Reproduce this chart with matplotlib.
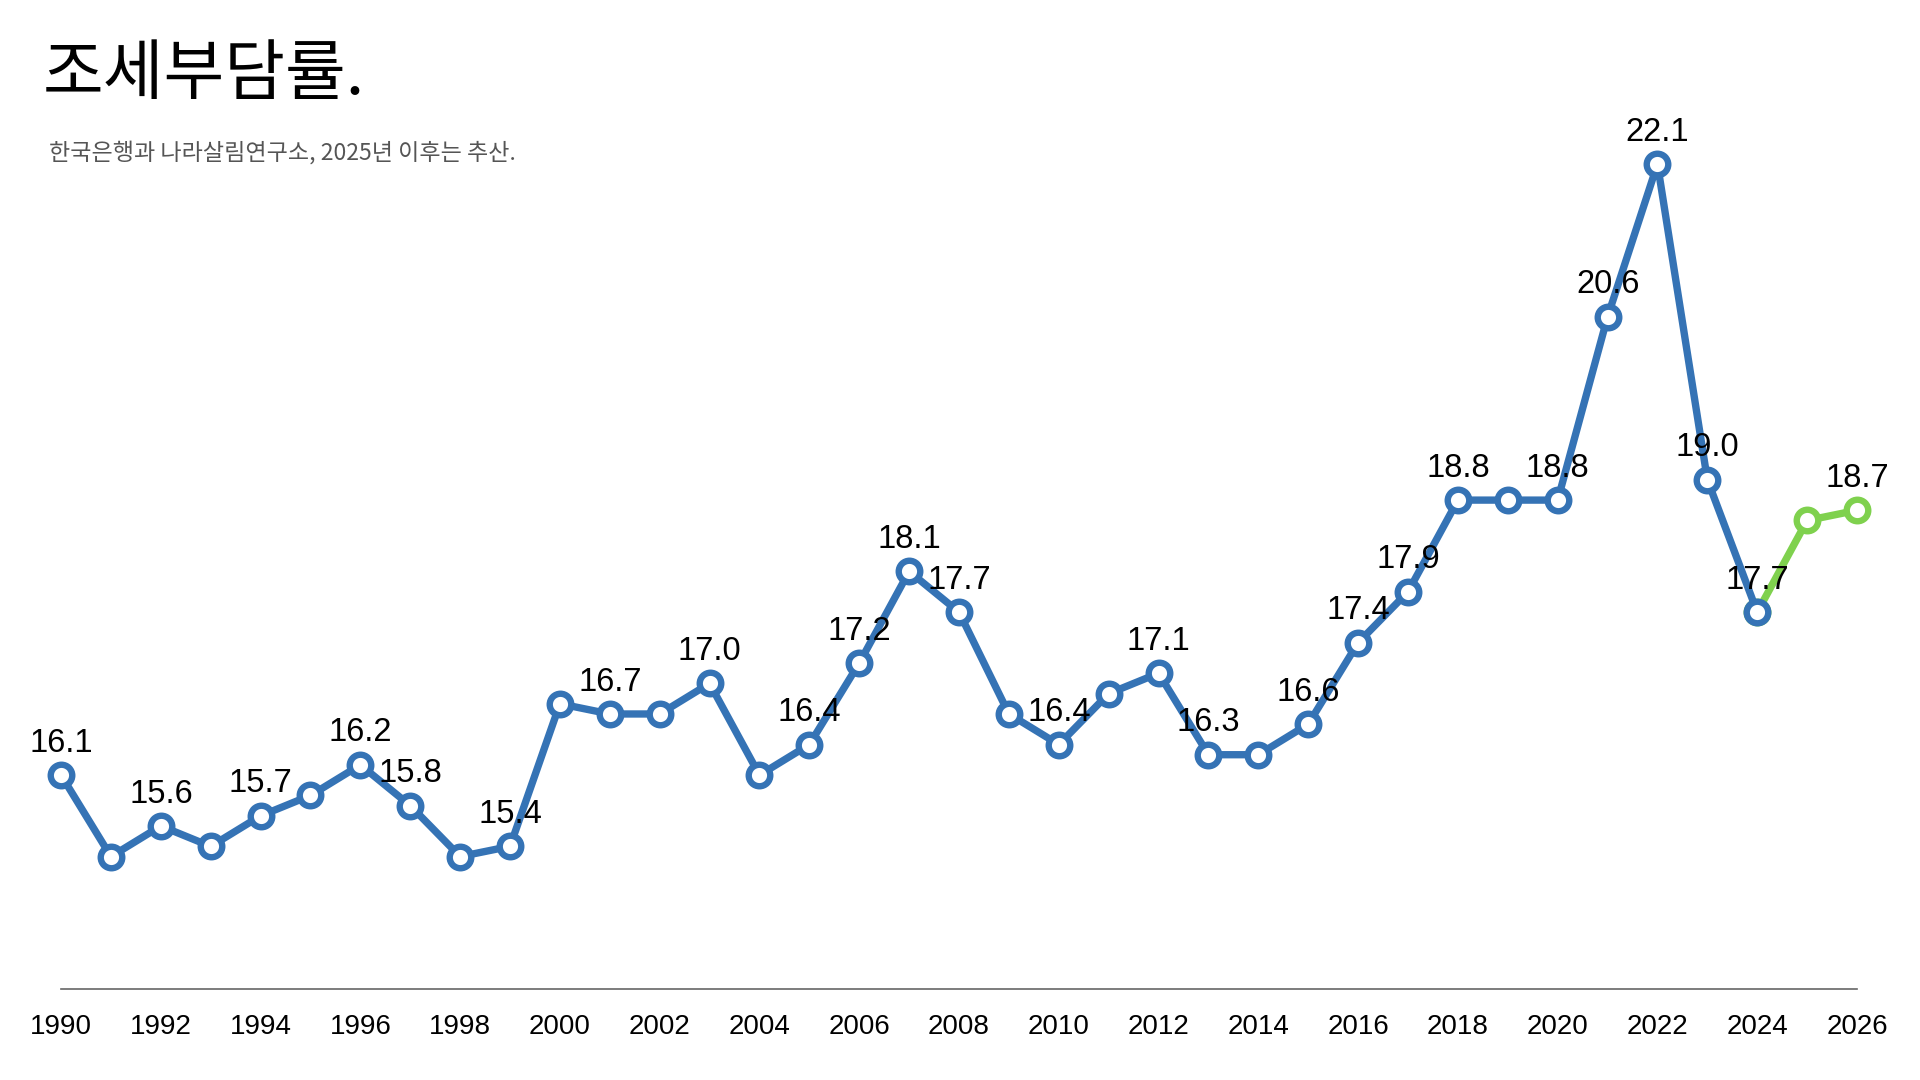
import matplotlib.pyplot as plt

years = list(range(1990, 2027))
tax_burden = [16.1, 15.3, 15.6, 15.4, 15.7, 15.9, 16.2, 15.8, 15.3, 15.4,
              16.8, 16.7, 16.7, 17.0, 16.1, 16.4, 17.2, 18.1, 17.7, 16.7,
              16.4, 16.9, 17.1, 16.3, 16.3, 16.6, 17.4, 17.9, 18.8, 18.8,
              18.8, 20.6, 22.1, 19.0, 17.7, 18.6, 18.7]
actual_end = 2024
labeled_years = [1990, 1992, 1994, 1996, 1997, 1999, 2001, 2003, 2005, 2006,
                 2007, 2008, 2010, 2012, 2013, 2015, 2016, 2017, 2018, 2020,
                 2021, 2022, 2023, 2024, 2026]
tick_years = list(range(1990, 2027, 2))

title = '조세부담률.'
subtitle = '한국은행과 나라살림연구소, 2025년 이후는 추산.'

blue = '#3573B5'
green = '#7FD14E'
num_font = ['Liberation Sans', 'DejaVu Sans']
kr_font = ['Noto Sans CJK KR', 'DejaVu Sans']

fig = plt.figure(figsize=(19.2, 10.8), dpi=100)
ax = fig.add_axes([0.0318, 0.0843, 0.9354, 0.8487])

split = years.index(actual_end)
act_x, act_y = years[:split + 1], tax_burden[:split + 1]
est_x, est_y = years[split:], tax_burden[split:]

ax.plot(est_x, est_y, color=green, lw=5.3, marker='o', ms=15.5,
        mfc='white', mec=green, mew=4.6, clip_on=False, zorder=2)
ax.plot(act_x, act_y, color=blue, lw=5.3, marker='o', ms=15.5,
        mfc='white', mec=blue, mew=4.6, clip_on=False, zorder=3)

for yr, val in zip(years, tax_burden):
    if yr in labeled_years:
        ax.annotate(f'{val:.1f}', (yr, val), xytext=(0, 23),
                    textcoords='offset points', ha='center', va='center',
                    fontsize=23.5, family=num_font, color='black', zorder=4)

ax.set_xlim(1990, 2026)
ax.set_ylim(14, 23)
ax.set_xticks(tick_years)
ax.set_xticklabels([str(y) for y in tick_years], family=num_font, fontsize=20)
ax.tick_params(axis='x', length=0, pad=18)
ax.set_yticks([])
for side in ['top', 'right', 'left']:
    ax.spines[side].set_visible(False)
ax.spines['bottom'].set_color('#666666')
ax.spines['bottom'].set_linewidth(1.2)

fig.text(0.0224, 0.930, title, family=kr_font, fontsize=47.5, va='center', ha='left')
fig.text(0.0255, 0.859, subtitle, family=kr_font, fontsize=16.6, color='#555555',
         va='center', ha='left')

fig.savefig('out.png', dpi=100, facecolor='white')
